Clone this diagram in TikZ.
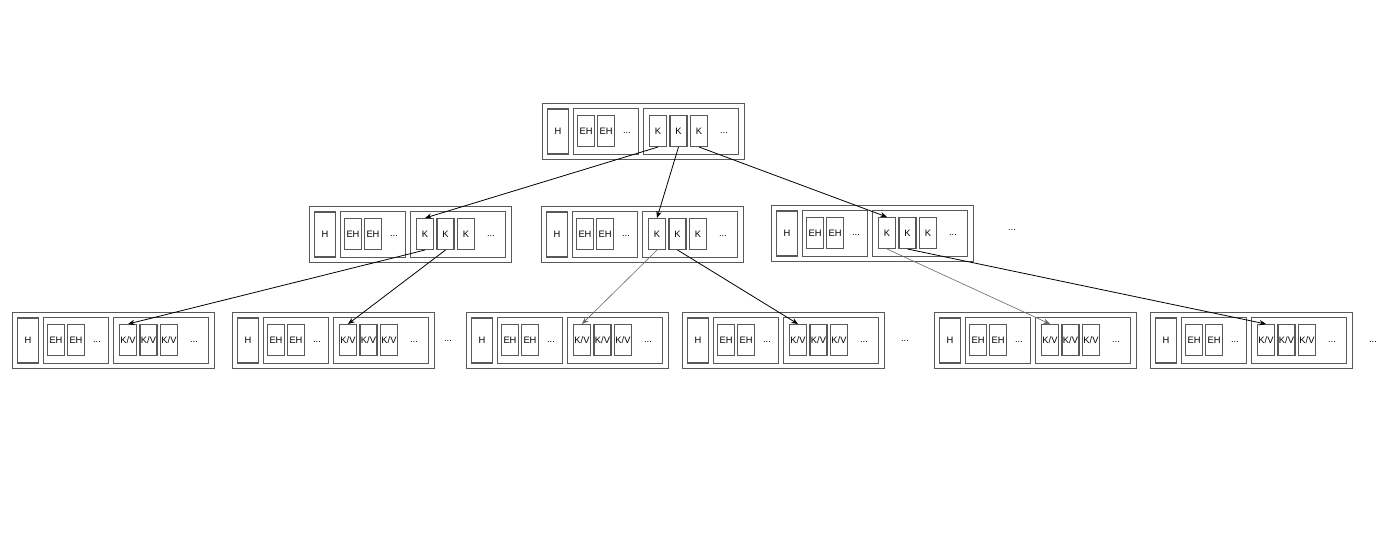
\documentclass[tikz,border=0pt]{standalone}
\usepackage{fontspec}
\setmainfont{Liberation Sans}
\usetikzlibrary{arrows.meta}

\tikzset{
  cell/.style={draw=black!65, line width=1pt, rectangle, inner sep=0pt, font=\fontsize{7}{8}\selectfont},
  outerbox/.style={cell, minimum width=151.3pt, minimum height=41.8pt},
  hbox/.style={cell, minimum width=15.8pt, minimum height=33.8pt},
  groupbox/.style={cell, minimum width=48.8pt, minimum height=34.3pt},
  keygroup/.style={cell, minimum width=71.3pt, minimum height=34.3pt},
  itembox/.style={cell, minimum width=12.8pt, minimum height=23pt},
  dots/.style={font=\fontsize{7}{8}\selectfont, inner sep=0pt},
  link/.style={-{Stealth[length=5pt,width=4pt]}, line width=0.6pt},
  thinlink/.style={link, draw=black!60, line width=0.45pt}
}

% one tree page: name, left x, top y, key text
\newcommand{\treepage}[4]{
  \node[outerbox] (#1) at (#2+101.5,#3+28.5) {};
  \node[hbox] (#1-h) at (#2+16,#3+28.5) {H};
  \node[groupbox] (#1-eh) at (#2+64,#3+28.5) {};
  \node[itembox] (#1-eh1) at (#2+44,#3+28) {EH};
  \node[itembox] (#1-eh2) at (#2+64,#3+28) {EH};
  \node[dots] (#1-ehd) at (#2+85,#3+29.5) {...};
  \node[keygroup] (#1-k) at (#2+149,#3+28.5) {};
  \node[itembox] (#1-k1) at (#2+116,#3+28) {#4};
  \node[itembox] (#1-k2) at (#2+136.5,#3+28) {#4};
  \node[itembox] (#1-k3) at (#2+157,#3+28) {#4};
  \node[dots] (#1-kd) at (#2+182,#3+29.5) {...};
}

\begin{document}
\begin{tikzpicture}[x=0.75pt, y=-0.75pt]
  \useasboundingbox (0,0) rectangle (1388,537);

  % root
  \treepage{root}{542}{103}{K}

  % inner level
  \treepage{midA}{309}{206}{K}
  \treepage{midB}{541}{206}{K}
  \treepage{midC}{771}{205}{K}
  \node[dots] (midmore) at (1012,230) {...};

  % leaves
  \treepage{leafA}{12}{312}{K/V}
  \treepage{leafB}{232}{312}{K/V}
  \treepage{leafC}{466}{312}{K/V}
  \treepage{leafD}{682}{312}{K/V}
  \treepage{leafE}{934}{312}{K/V}
  \treepage{leafF}{1150}{312}{K/V}
  \node[dots] (leafmoreA) at (448,341) {...};
  \node[dots] (leafmoreB) at (905,341) {...};
  \node[dots] (leafmoreC) at (1373,342) {...};

  \draw[link] (root-k1.south) -- (midA-k1.north);
  \draw[link] (root-k2.south) -- (midB-k1.north);
  \draw[link] (root-k3.south) -- (midC-k1.north);

  \draw[link] (midA-k1.south) -- (leafA-k1.north);
  \draw[link] (midA-k2.south) -- (leafB-k1.north);
  \draw[thinlink] (midB-k1.south) -- (leafC-k1.north);
  \draw[link] (midB-k2.south) -- (leafD-k1.north);
  \draw[thinlink] (midC-k1.south) -- (leafE-k1.north);
  \draw[link] (midC-k2.south) -- (leafF-k1.north);
\end{tikzpicture}
\end{document}
